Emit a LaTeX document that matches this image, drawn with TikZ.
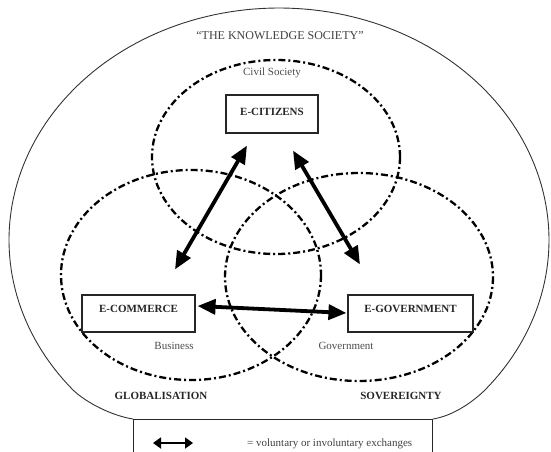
\documentclass[tikz,border=0pt]{standalone}
\usepackage{fontspec}
\setmainfont{Liberation Serif}
\usetikzlibrary{arrows.meta,calc}
\begin{document}
\begin{tikzpicture}[x=1pt,y=-1pt,
  every node/.style={inner sep=0pt, font=\fontsize{11}{13}\selectfont},
  outerline/.style={draw=black!80, line width=0.9pt},
  dashdot/.style={draw=black, line width=2.3pt, dash pattern=on 7pt off 3pt on 2pt off 3pt},
  ebox/.style={draw=black!85, line width=1.1pt, fill=white, font=\fontsize{11}{13}\selectfont\bfseries, text=black!85, text height=7.3pt, text depth=9pt},
  lab/.style={anchor=base, text=black!70},
  blab/.style={anchor=base, text=black!85, font=\fontsize{11}{13}\selectfont\bfseries},
  xarrow/.style={line width=3.8pt, {Triangle[length=18pt,width=15pt]}-{Triangle[length=18pt,width=15pt]}},
  legarrow/.style={line width=1.8pt, {Triangle[length=8pt,width=11pt]}-{Triangle[length=8pt,width=11pt]}}
]
\useasboundingbox (0,0) rectangle (551,452);

% legend box (extends past the bottom edge)
\node[draw=black!85, line width=1pt, minimum width=299pt, minimum height=60pt, anchor=north west] (legend) at (133,419) {};

% outer "knowledge society" outline
\draw[outerline] (legend.north west) .. controls (113,416) and (86,403) .. (72,389)
  -- plot[domain=220:-40, samples=160] ({279+270*cos(\x)},{240-232*sin(\x)})
  .. controls (472,403) and (452,416) .. (legend.north east);

% three dash-dot spheres
\draw[dashdot] (276,157) ellipse [x radius=124, y radius=97];
\draw[dashdot] (191,275) ellipse [x radius=130, y radius=105];
\draw[dashdot] (359,277) ellipse [x radius=134, y radius=104];

% boxes
\node[ebox, minimum width=92pt, minimum height=38pt, text depth=4pt] (ecit) at (272,114) {E-CITIZENS};
\node[ebox, minimum width=113pt, minimum height=37pt] (ecom) at (138.5,313.5) {E-COMMERCE\hspace{11pt}};
\node[ebox, minimum width=125pt, minimum height=37pt] (egov) at (410.5,313.5) {E-GOVERNMENT\hspace{7pt}};

% labels
\node[lab, text=black!75, font=\fontsize{12}{14}\selectfont] (title) at (280,40) {“THE KNOWLEDGE SOCIETY”};
\node[lab] (civil) at (272,75.6) {Civil Society};
\node[lab] (business) at (174,349.6) {Business};
\node[lab] (government) at (346,349.6) {Government};
\node[blab] (glob) at (161,399.6) {GLOBALISATION};
\node[blab] (sov) at (401,399.6) {SOVEREIGNTY};

% exchange arrows
\coordinate (t1) at ($(ecit.south)+(-25,12)$);
\coordinate (b1) at ($(ecom.north)+(36.5,-25)$);
\coordinate (t2) at ($(ecit.south)+(21,17)$);
\coordinate (b2) at ($(egov.north)+(-50.5,-30)$);
\coordinate (h1) at ($(ecom.east)+(2,-7.5)$);
\coordinate (h2) at ($(egov.west)+(-1,-0.5)$);
\draw[xarrow] (t1) -- (b1);
\draw[xarrow] (t2) -- (b2);
\draw[xarrow] (h1) -- (h2);

% legend content
\coordinate (la) at ($(legend.north west)+(20,24)$);
\coordinate (lb) at ($(legend.north west)+(60,24)$);
\draw[legarrow] (la) -- (lb);
\node[anchor=base west, text=black!75] (legtext) at ($(legend.north west)+(114,27.5)$) {= voluntary or involuntary exchanges};
\end{tikzpicture}
\end{document}
